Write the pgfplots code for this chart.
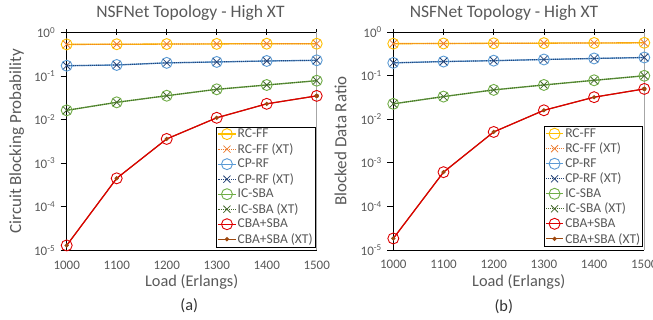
\documentclass[border=0pt]{standalone}
\usepackage{pgfplots}
\pgfplotsset{compat=1.18}
\usepackage{fontspec}
\setmainfont{Carlito}
\definecolor{cRC}{HTML}{FFC000}
\definecolor{cRCx}{HTML}{ED7D31}
\definecolor{cCP}{HTML}{5B9BD5}
\definecolor{cCPx}{HTML}{264478}
\definecolor{cIC}{HTML}{70AD47}
\definecolor{cICx}{HTML}{43682B}
\definecolor{cCBA}{HTML}{DD0000}
\definecolor{cCBAx}{HTML}{9E480E}
\definecolor{txt}{HTML}{595959}
\pgfplotsset{
  every axis/.append style={
    scale only axis, height=218pt,
    ymode=log, ymin=1e-5, ymax=1, xmin=1000, xmax=1500,
    xtick={1000,1100,...,1500},
    xticklabels={1000,1100,1200,1300,1400,1500},
    ytick={1e-5,1e-4,1e-3,1e-2,1e-1,1},
    yticklabels={10\textsuperscript{-5},10\textsuperscript{-4},10\textsuperscript{-3},10\textsuperscript{-2},10\textsuperscript{-1},10\textsuperscript{0}},
    yminorticks=false,
    axis x line*=box, axis y line*=left,
    xtick pos=right, xticklabel pos=left,
    ytick pos=left,
    x tick style={black, line width=0.6pt},
    y tick style={black, line width=0.6pt},
    xtick align=center, ytick align=outside,
    major tick length=6pt,
    axis line style={black, line width=0.8pt},
    tick label style={text=txt, font=\fontsize{13}{13}\selectfont},
    xticklabel style={yshift=-4pt},
    yticklabel style={xshift=-2pt},
    xlabel style={text=txt, font=\fontsize{16.3}{18}\selectfont},
    ylabel style={text=txt, font=\fontsize{17}{18}\selectfont},
    title style={text=txt, font=\fontsize{17.5}{18}\selectfont},
    clip=false,
    legend cell align=left,
    legend style={draw=black, line width=0.6pt, anchor=south east, at={(0.995,0.015)},
      font=\fontsize{13.5}{14}\selectfont, text=txt, inner sep=1pt, row sep=2.4pt,
      nodes={inner xsep=1.5pt, inner ysep=0.9pt}},
  },
}
\tikzset{
  sA/.style={color=cRC, line width=1.3pt, mark=o, mark size=5.5pt, mark options={solid, line width=0.9pt}},
  sAx/.style={color=cRCx, line width=1.1pt, densely dotted, mark=x, mark size=5pt, mark options={solid, line width=0.8pt}},
  sB/.style={color=cCP, line width=1.3pt, mark=o, mark size=5.5pt, mark options={solid, line width=0.9pt}},
  sBx/.style={color=cCPx, line width=1.1pt, densely dotted, mark=x, mark size=5pt, mark options={solid, line width=0.8pt}},
  sC/.style={color=cIC, line width=1.3pt, mark=o, mark size=5.5pt, mark options={solid, line width=0.9pt}},
  sCx/.style={color=cICx, line width=1.1pt, densely dotted, mark=x, mark size=5pt, mark options={solid, line width=0.8pt}},
  sD/.style={color=cCBA, line width=1.2pt, mark=o, mark size=5.5pt, mark options={solid, line width=0.9pt}},
  sDx/.style={color=cCBAx, line width=1.1pt, mark=*, mark size=1.5pt, mark options={solid}},
}
\begin{document}
\begin{tikzpicture}
\useasboundingbox (0,0) rectangle (653pt,320pt);
% ---------- (a) ----------
\begin{axis}[width=250pt, at={(66.7pt,69.6pt)}, anchor=south west,
  title={NSFNet Topology - High XT}, title style={at={(axis description cs:0.495,1)}, anchor=base, yshift=8.5pt},
  xlabel={Load (Erlangs)}, xlabel style={at={(axis description cs:0.5,-0.145)}, anchor=center},
  ylabel={Circuit Blocking Probability}, ylabel style={at={(axis description cs:-0.2,0.5)}, anchor=center},
]
\addplot[sDx, forget plot] coordinates {(1000,1.3e-5) (1100,4.5e-4) (1200,3.6e-3) (1300,0.011) (1400,0.023) (1500,0.035)};
\addplot[sA] coordinates {(1000,0.53) (1100,0.535) (1200,0.54) (1300,0.545) (1400,0.55) (1500,0.55)};
\addlegendentry{RC-FF}
\addplot[sAx] coordinates {(1000,0.53) (1100,0.535) (1200,0.54) (1300,0.545) (1400,0.55) (1500,0.55)};
\addlegendentry{RC-FF (XT)}
\addplot[sB] coordinates {(1000,0.172) (1100,0.179) (1200,0.2) (1300,0.21) (1400,0.221) (1500,0.229)};
\addlegendentry{CP-RF}
\addplot[sBx] coordinates {(1000,0.172) (1100,0.179) (1200,0.2) (1300,0.21) (1400,0.221) (1500,0.229)};
\addlegendentry{CP-RF (XT)}
\addplot[sC] coordinates {(1000,0.0163) (1100,0.0249) (1200,0.0353) (1300,0.0495) (1400,0.0622) (1500,0.078)};
\addlegendentry{IC-SBA}
\addplot[sCx] coordinates {(1000,0.0163) (1100,0.0249) (1200,0.0353) (1300,0.0495) (1400,0.0622) (1500,0.078)};
\addlegendentry{IC-SBA (XT)}
\addplot[sD] coordinates {(1000,1.3e-5) (1100,4.5e-4) (1200,3.6e-3) (1300,0.011) (1400,0.023) (1500,0.035)};
\addlegendentry{CBA+SBA}
\addplot[cCBAx, mark=*, mark size=2pt, only marks, forget plot] coordinates {(1500,0.035)};
\addlegendimage{sDx}
\addlegendentry{CBA+SBA (XT)}
\draw[gray!70, line width=1pt] (rel axis cs:1,0) -- (rel axis cs:1,1);
\node[font=\fontsize{16.3}{18}\selectfont, text=black!80] at (axis description cs:0.49,-0.255) {(a)};
\end{axis}
% ---------- (b) ----------
\begin{axis}[width=251pt, at={(393.3pt,70pt)}, anchor=south west,
  title={NSFNet Topology - High XT}, title style={at={(axis description cs:0.441,1)}, anchor=base, yshift=8.5pt},
  xlabel={Load (Erlangs)}, xlabel style={at={(axis description cs:0.5,-0.145)}, anchor=center},
  ylabel={Blocked Data Ratio}, ylabel style={at={(axis description cs:-0.21,0.5)}, anchor=center},
]
\addplot[sDx, forget plot] coordinates {(1000,1.84e-5) (1100,6.1e-4) (1200,5.1e-3) (1300,0.016) (1400,0.032) (1500,0.0495)};
\addplot[sA] coordinates {(1000,0.54) (1100,0.545) (1200,0.55) (1300,0.555) (1400,0.56) (1500,0.565)};
\addlegendentry{RC-FF}
\addplot[sAx] coordinates {(1000,0.54) (1100,0.545) (1200,0.55) (1300,0.555) (1400,0.56) (1500,0.565)};
\addlegendentry{RC-FF (XT)}
\addplot[sB] coordinates {(1000,0.196) (1100,0.21) (1200,0.22) (1300,0.234) (1400,0.247) (1500,0.26)};
\addlegendentry{CP-RF}
\addplot[sBx] coordinates {(1000,0.196) (1100,0.21) (1200,0.22) (1300,0.234) (1400,0.247) (1500,0.26)};
\addlegendentry{CP-RF (XT)}
\addplot[sC] coordinates {(1000,0.0225) (1100,0.033) (1200,0.047) (1300,0.061) (1400,0.078) (1500,0.099)};
\addlegendentry{IC-SBA}
\addplot[sCx] coordinates {(1000,0.0225) (1100,0.033) (1200,0.047) (1300,0.061) (1400,0.078) (1500,0.099)};
\addlegendentry{IC-SBA (XT)}
\addplot[sD] coordinates {(1000,1.84e-5) (1100,6.1e-4) (1200,5.1e-3) (1300,0.016) (1400,0.032) (1500,0.0495)};
\addlegendentry{CBA+SBA}
\addplot[cCBAx, mark=*, mark size=2pt, only marks, forget plot] coordinates {(1500,0.0495)};
\addlegendimage{sDx}
\addlegendentry{CBA+SBA (XT)}
\draw[gray!70, line width=1pt] (rel axis cs:1,0) -- (rel axis cs:1,1);
\node[font=\fontsize{16.3}{18}\selectfont, text=black!80] at (axis description cs:0.44,-0.26) {(b)};
\end{axis}
\end{tikzpicture}
\end{document}
